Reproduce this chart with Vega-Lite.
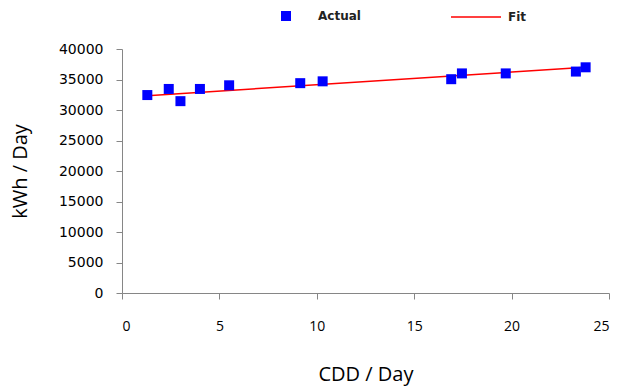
{
  "$schema": "https://vega.github.io/schema/vega-lite/v6.json",
  "width": 487,
  "height": 244,
  "autosize": {"type": "none"},
  "padding": {"left": 122, "top": 49, "right": 30, "bottom": 95},
  "background": "white",
  "config": {
    "view": {"stroke": null},
    "axis": {
      "grid": false,
      "domainColor": "#868686",
      "tickColor": "#868686",
      "labelColor": "#000000",
      "titleColor": "#000000",
      "labelFont": "Open Sans",
      "titleFont": "Open Sans",
      "labelFontSize": 14,
      "titleFontSize": 20,
      "titleFontWeight": "normal",
      "tickSize": 6,
      "labelOverlap": false
    },
    "legend": {"padding": 0, "labelFont": "DejaVu Sans", "labelFontSize": 12, "labelFontWeight": "bold", "labelColor": "#222222"}
  },
  "resolve": {"scale": {"color": "independent"}, "legend": {"color": "independent"}},
  "datasets": {
    "actual": [
      {"cdd": 1.3, "kwh": 32450, "series": "Actual"},
      {"cdd": 2.4, "kwh": 33450, "series": "Actual"},
      {"cdd": 3.0, "kwh": 31450, "series": "Actual"},
      {"cdd": 4.0, "kwh": 33450, "series": "Actual"},
      {"cdd": 5.5, "kwh": 34050, "series": "Actual"},
      {"cdd": 9.15, "kwh": 34400, "series": "Actual"},
      {"cdd": 10.3, "kwh": 34700, "series": "Actual"},
      {"cdd": 16.9, "kwh": 35050, "series": "Actual"},
      {"cdd": 17.45, "kwh": 36000, "series": "Actual"},
      {"cdd": 19.7, "kwh": 36000, "series": "Actual"},
      {"cdd": 23.3, "kwh": 36300, "series": "Actual"},
      {"cdd": 23.8, "kwh": 37000, "series": "Actual"}
    ],
    "fit": [
      {"cdd": 1.3, "kwh": 32350, "series": "Fit"},
      {"cdd": 23.8, "kwh": 37000, "series": "Fit"}
    ]
  },
  "encoding": {
    "x": {
      "field": "cdd", "type": "quantitative",
      "scale": {"domain": [0, 25], "nice": false},
      "axis": {"values": [0, 5, 10, 15, 20, 25], "title": "CDD / Day", "labelPadding": 20, "titlePadding": 31}
    },
    "y": {
      "field": "kwh", "type": "quantitative",
      "scale": {"domain": [0, 40000], "nice": false},
      "axis": {"values": [0, 5000, 10000, 15000, 20000, 25000, 30000, 35000, 40000], "format": "d", "title": "kWh / Day", "labelFont": "DejaVu Sans", "labelFontSize": 14, "labelPadding": 13, "titlePadding": 28}
    }
  },
  "layer": [
    {
      "data": {"name": "fit"},
      "mark": {"type": "line", "strokeWidth": 1.5},
      "encoding": {
        "color": {
          "field": "series", "type": "nominal",
          "scale": {"domain": ["Fit"], "range": ["#FF0000"]},
          "legend": {
            "title": null,
            "orient": "none",
            "legendX": 328,
            "legendY": -58,
            "symbolType": "stroke",
            "symbolSize": 2500,
            "symbolStrokeWidth": 1.5,
            "labelOffset": 6
          }
        }
      }
    },
    {
      "data": {"name": "actual"},
      "mark": {"type": "square", "size": 100, "filled": true, "opacity": 1},
      "encoding": {
        "color": {
          "field": "series", "type": "nominal",
          "scale": {"domain": ["Actual"], "range": ["#0000FF"]},
          "legend": {
            "title": null,
            "orient": "none",
            "legendX": 158,
            "legendY": -39,
            "symbolType": "square",
            "symbolSize": 100,
            "symbolOpacity": 1,
            "labelOffset": 26
          }
        }
      }
    }
  ]
}
